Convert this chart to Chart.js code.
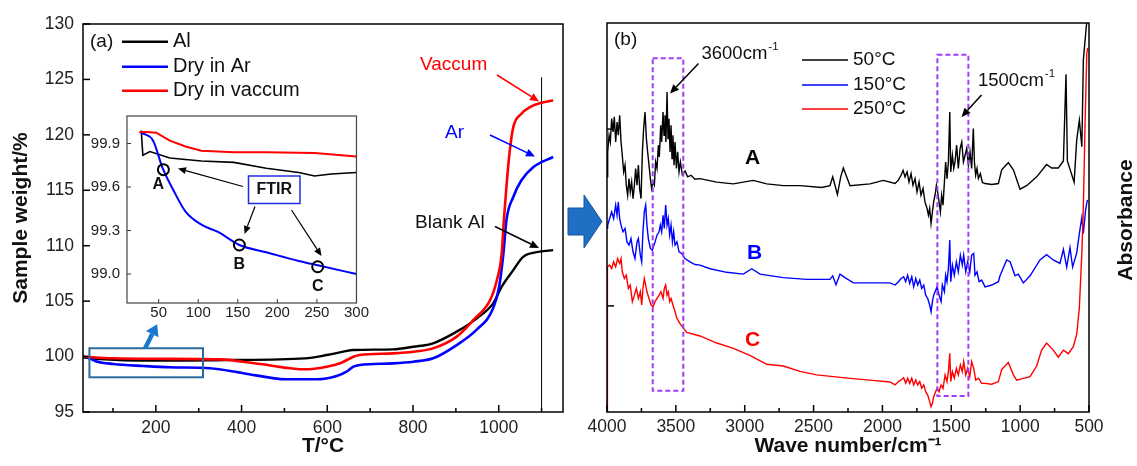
<!DOCTYPE html>
<html>
<head>
<meta charset="utf-8">
<script src="https://cdn.jsdelivr.net/npm/chart.js@4.4.1/dist/chart.umd.min.js"></script>
<style>
  html, body { margin: 0; padding: 0; background: #fff; }
  #wrap { position: relative; width: 1137px; height: 466px; overflow: hidden; background: #fff; }
  canvas { position: absolute; }
</style>
</head>
<body>
<div id="wrap">
  <canvas id="tga" width="570" height="466" style="left:0;top:0;width:570px;height:466px"></canvas>
  <canvas id="inset" width="285" height="230" style="left:85px;top:100px;width:285px;height:230px"></canvas>
  <canvas id="ftir" width="577" height="466" style="left:560px;top:0;width:577px;height:466px"></canvas>
</div>
<script>
// ---- (a) TGA curves: [T in °C, sample weight %] ----
const tgaVacuum = [[30,100.0],[100,99.85],[200,99.8],[350,99.75],[443,99.33],[548,98.85],[599,99.09],[630,99.39],[661,99.99],[676,100.14],[754,100.29],[801,100.44],[847,100.74],[902,101.8],[941,103.3],[980,105.1],[995,106.8],[1007,109.3],[1012,112.3],[1018,115.3],[1025,118.3],[1034,120.7],[1053,121.9],[1073,122.5],[1096,122.85],[1127,123.1]];
const tgaArgon = [[30,100.0],[45,99.85],[62,99.55],[101,99.33],[171,99.15],[233,99.03],[326,98.94],[404,98.5],[505,97.95],[575,97.95],[622,98.25],[645,98.64],[661,99.09],[676,99.24],[754,99.39],[801,99.54],[847,99.84],[902,101.04],[948,102.4],[987,104.35],[1001,106.3],[1011,109.3],[1018,112.3],[1034,114.4],[1053,115.9],[1081,117.1],[1127,118.0]];
const tgaBlank = [[30,99.93],[60,99.8],[202,99.63],[365,99.69],[548,99.84],[599,100.14],[637,100.44],[661,100.59],[754,100.65],[801,100.89],[847,101.2],[902,102.25],[949,103.45],[987,104.8],[1007,106.3],[1034,107.8],[1057,109.0],[1096,109.46],[1127,109.6]];
const tgaMarker = [[1100,95],[1100,125.2]];
const tgaMinorTicks = [100,300,500,700,900,1100];
const tgaZoomBox = [45, 310, 98.13, 100.75];

// ---- inset: first 300 °C ----
const insetVacuum = [[26,99.98],[35,99.98],[47,99.975],[64,99.92],[84,99.88],[104,99.85],[145,99.84],[186,99.84],[247,99.835],[300,99.81]];
const insetBlank = [[28,99.99],[30,99.82],[39,99.845],[64,99.80],[104,99.78],[145,99.77],[186,99.73],[227,99.70],[247,99.676],[268,99.69],[300,99.70]];
const insetArgon = [[26,99.98],[30,99.97],[43,99.92],[55,99.73],[68,99.585],[84,99.43],[104,99.34],[125,99.29],[152,99.20],[186,99.15],[227,99.09],[251,99.06],[300,99.0]];
const ftirSamples = [[56,99.72],[152,99.20],[251,99.05]];
const ftirSampleNames = ['A','B','C'];

// ---- (b) FTIR spectra: [wave number, absorbance (a.u.)] ----
const ftir50 = [[4000,1.33],[3995,1.47],[3985,1.565],[3976,1.527],[3966,1.659],[3956,1.584],[3947,1.669],[3937,1.527],[3927,1.64],[3918,1.565],[3908,1.678],[3898,1.527],[3889,1.452],[3879,1.358],[3869,1.396],[3860,1.283],[3850,1.226],[3840,1.32],[3831,1.245],[3821,1.301],[3811,1.207],[3801,1.283],[3792,1.377],[3782,1.283],[3772,1.396],[3763,1.264],[3753,1.207],[3743,1.471],[3734,1.603],[3724,1.697],[3714,1.546],[3705,1.471],[3695,1.396],[3685,1.32],[3676,1.264],[3666,1.301],[3656,1.283],[3647,1.414],[3637,1.377],[3627,1.509],[3620,1.443],[3610,1.622],[3603,1.527],[3593,1.697],[3586,1.565],[3579,1.678],[3572,1.527],[3564,1.81],[3557,1.546],[3550,1.659],[3542,1.471],[3535,1.622],[3528,1.433],[3521,1.565],[3513,1.396],[3506,1.527],[3496,1.377],[3487,1.471],[3477,1.358],[3467,1.414],[3453,1.343],[3433,1.362],[3414,1.33],[3390,1.339],[3361,1.316],[3325,1.32],[3203,1.30],[3083,1.29],[2938,1.31],[2840,1.29],[2720,1.28],[2598,1.28],[2441,1.27],[2381,1.28],[2361,1.33],[2327,1.23],[2303,1.33],[2284,1.38],[2260,1.33],[2235,1.28],[2090,1.29],[1994,1.31],[1908,1.292],[1884,1.311],[1865,1.339],[1850,1.367],[1836,1.33],[1821,1.358],[1807,1.301],[1792,1.348],[1778,1.283],[1763,1.32],[1749,1.245],[1734,1.301],[1720,1.226],[1705,1.264],[1691,1.188],[1676,1.151],[1666,1.113],[1657,1.151],[1647,1.066],[1637,1.132],[1628,1.188],[1618,1.226],[1608,1.283],[1599,1.245],[1589,1.188],[1579,1.132],[1570,1.226],[1560,1.17],[1550,1.301],[1541,1.414],[1531,1.32],[1521,1.414],[1511,1.697],[1504,1.358],[1492,1.452],[1482,1.377],[1473,1.414],[1461,1.509],[1449,1.377],[1436,1.49],[1424,1.527],[1412,1.414],[1400,1.452],[1388,1.49],[1376,1.396],[1364,1.471],[1352,1.377],[1340,1.603],[1332,1.414],[1323,1.339],[1313,1.377],[1303,1.32],[1289,1.348],[1274,1.298],[1255,1.292],[1206,1.287],[1158,1.292],[1134,1.37],[1086,1.41],[1049,1.37],[1001,1.26],[953,1.28],[880,1.33],[808,1.40],[771,1.38],[723,1.38],[686,1.42],[667,1.91],[657,1.42],[608,1.30],[589,1.54],[570,1.65],[552,1.50],[541,1.99],[522,2.16],[510,2.25]];
const ftir150 = [[4000,1.04],[3995,1.057],[3981,1.094],[3966,1.132],[3952,1.094],[3937,1.17],[3927,1.113],[3918,1.188],[3908,1.094],[3898,1.057],[3884,1.019],[3869,1.038],[3855,0.962],[3840,0.944],[3826,0.981],[3811,0.906],[3797,0.868],[3782,0.962],[3772,0.981],[3758,0.887],[3748,0.849],[3739,1.019],[3729,1.132],[3719,1.17],[3710,1.057],[3700,0.981],[3685,0.925],[3671,0.915],[3651,0.962],[3637,1.0],[3622,1.019],[3613,1.057],[3603,1.019],[3593,1.113],[3584,1.038],[3574,1.17],[3564,1.057],[3555,1.094],[3545,1.0],[3535,1.057],[3525,0.962],[3516,1.019],[3506,0.944],[3492,0.962],[3477,0.906],[3458,0.897],[3434,0.868],[3397,0.849],[3361,0.834],[3325,0.831],[3252,0.81],[3131,0.79],[3010,0.78],[2949,0.81],[2889,0.78],[2720,0.76],[2550,0.75],[2381,0.75],[2361,0.77],[2337,0.72],[2308,0.78],[2272,0.76],[2211,0.73],[2090,0.73],[1945,0.73],[1908,0.718],[1884,0.737],[1865,0.755],[1846,0.765],[1831,0.737],[1817,0.774],[1802,0.727],[1787,0.765],[1773,0.708],[1758,0.755],[1744,0.718],[1729,0.746],[1715,0.699],[1700,0.718],[1686,0.661],[1671,0.642],[1657,0.605],[1647,0.567],[1637,0.624],[1628,0.661],[1618,0.68],[1603,0.708],[1589,0.661],[1574,0.624],[1565,0.718],[1550,0.68],[1541,0.774],[1531,0.737],[1521,0.812],[1511,0.972],[1504,0.737],[1492,0.831],[1478,0.774],[1463,0.849],[1449,0.793],[1434,0.887],[1420,0.831],[1410,0.887],[1395,0.793],[1381,0.849],[1366,0.793],[1352,0.887],[1337,0.897],[1328,0.774],[1313,0.793],[1298,0.737],[1279,0.746],[1255,0.708],[1206,0.718],[1158,0.737],[1146,0.77],[1098,0.86],[1073,0.85],[1037,0.77],[1013,0.78],[977,0.73],[928,0.77],[856,0.86],[808,0.89],[759,0.86],[711,0.84],[686,0.92],[662,0.82],[638,0.93],[619,0.82],[589,0.90],[570,1.01],[552,1.10],[541,1.01],[525,1.14],[512,1.20]];
const ftir250 = [[4000,0],[3999,0.82],[3995,0.821],[3981,0.831],[3966,0.812],[3952,0.849],[3937,0.821],[3923,0.868],[3908,0.84],[3898,0.868],[3889,0.793],[3874,0.755],[3860,0.774],[3845,0.699],[3831,0.718],[3816,0.624],[3801,0.661],[3787,0.699],[3772,0.642],[3758,0.68],[3748,0.605],[3739,0.699],[3729,0.755],[3719,0.718],[3710,0.68],[3695,0.642],[3680,0.605],[3666,0.595],[3651,0.624],[3637,0.642],[3622,0.661],[3608,0.68],[3593,0.642],[3584,0.699],[3574,0.718],[3564,0.661],[3555,0.68],[3545,0.624],[3535,0.642],[3521,0.605],[3506,0.567],[3492,0.529],[3470,0.50],[3421,0.45],[3325,0.43],[3203,0.39],[3083,0.36],[2962,0.32],[2840,0.27],[2720,0.26],[2598,0.23],[2477,0.21],[2357,0.20],[2235,0.19],[2090,0.18],[1945,0.17],[1908,0.153],[1884,0.172],[1865,0.181],[1846,0.194],[1831,0.162],[1817,0.191],[1802,0.162],[1787,0.191],[1773,0.153],[1758,0.181],[1744,0.153],[1729,0.172],[1715,0.134],[1700,0.153],[1686,0.115],[1671,0.096],[1657,0.059],[1647,0.03],[1637,0.049],[1628,0.087],[1618,0.106],[1603,0.134],[1589,0.115],[1574,0.153],[1560,0.134],[1545,0.209],[1531,0.172],[1521,0.228],[1511,0.332],[1504,0.172],[1492,0.228],[1478,0.191],[1463,0.247],[1449,0.209],[1434,0.266],[1420,0.228],[1410,0.285],[1395,0.209],[1381,0.247],[1366,0.2],[1352,0.285],[1337,0.247],[1323,0.181],[1303,0.191],[1279,0.162],[1255,0.162],[1206,0.157],[1158,0.172],[1134,0.24],[1086,0.28],[1049,0.21],[1025,0.18],[977,0.19],[928,0.20],[880,0.26],[844,0.35],[808,0.39],[759,0.35],[723,0.31],[686,0.35],[650,0.33],[614,0.37],[589,0.44],[570,0.59],[552,0.90],[541,1.16],[528,1.65],[516,2.03],[509,2.06]];
const ftirMinorTicks = [750,1250,1750,2250,2750,3250,3750];
const ftirYTicks = [0.6, 1.6];
// dashed boxes: [from, to, top, bottom]
const bandBoxes = [[3668,3446,2.0,0.12],[1601,1376,2.02,0.09]];

const FONT = "Arial, 'Liberation Sans', sans-serif";
Chart.defaults.font.family = FONT;
Chart.defaults.color = '#111';

const xy = arr => arr.map(([x, y]) => ({ x, y }));
const plain = v => String(v);

function arrow(ctx, x1, y1, x2, y2, color, lw, hl, hw) {
  const a = Math.atan2(y2 - y1, x2 - x1);
  const bx = x2 - hl * Math.cos(a), by = y2 - hl * Math.sin(a);
  ctx.strokeStyle = color; ctx.fillStyle = color; ctx.lineWidth = lw;
  ctx.beginPath(); ctx.moveTo(x1, y1); ctx.lineTo(bx, by); ctx.stroke();
  ctx.beginPath(); ctx.moveTo(x2, y2);
  ctx.lineTo(bx + hw * Math.sin(a), by - hw * Math.cos(a));
  ctx.lineTo(bx - hw * Math.sin(a), by + hw * Math.cos(a));
  ctx.closePath(); ctx.fill();
}

function text(ctx, s, x, y, opt) {
  ctx.font = (opt.weight || '') + ' ' + opt.size + 'px ' + FONT;
  ctx.fillStyle = opt.color || '#111';
  ctx.textAlign = opt.align || 'left';
  ctx.textBaseline = 'middle';
  ctx.fillText(s, x, y);
}

function supText(ctx, base, sup, x, y, size, color) {
  text(ctx, base, x, y, { size, color });
  const w = ctx.measureText(base).width;
  text(ctx, sup, x + w + 1, y - 7, { size: size * 0.62, color });
}

function innerTicks(ctx, area, xs, ys, majorX, minorX, yVals) {
  ctx.strokeStyle = '#000'; ctx.lineWidth = 1.5;
  majorX.forEach(v => { const p = xs.getPixelForValue(v); ctx.beginPath(); ctx.moveTo(p, area.bottom); ctx.lineTo(p, area.bottom - 7); ctx.stroke(); });
  minorX.forEach(v => { const p = xs.getPixelForValue(v); ctx.beginPath(); ctx.moveTo(p, area.bottom); ctx.lineTo(p, area.bottom - 4); ctx.stroke(); });
  yVals.forEach(v => { const p = ys.getPixelForValue(v); ctx.beginPath(); ctx.moveTo(area.left, p); ctx.lineTo(area.left + 7, p); ctx.stroke(); });
}

// ---------- (a) TGA ----------
const tgaDecor = {
  id: 'tgaDecor',
  afterDatasetsDraw(chart) {
    const { ctx, chartArea: a, scales: { x, y } } = chart;
    ctx.save();
    innerTicks(ctx, a, x, y, x.ticks.map(t => t.value), tgaMinorTicks, y.ticks.map(t => t.value));
    ctx.strokeStyle = '#000'; ctx.lineWidth = 1.5;
    ctx.strokeRect(a.left, a.top, a.right - a.left, a.bottom - a.top);

    // legend
    text(ctx, '(a)', 90, 42, { size: 19 });
    const leg = [['Al', '#000', 41.7], ['Dry in Ar', '#0000ff', 66.7], ['Dry in vaccum', '#ff0000', 90.7]];
    leg.forEach(([s, c, ly]) => {
      ctx.strokeStyle = c; ctx.lineWidth = 2.5;
      ctx.beginPath(); ctx.moveTo(122, ly); ctx.lineTo(168, ly); ctx.stroke();
      text(ctx, s, 173, ly, { size: 20 });
    });

    // curve labels
    text(ctx, 'Vaccum', 420, 65, { size: 19, color: '#ff0000' });
    arrow(ctx, 497, 75, 539, 101.5, '#ff0000', 1.5, 9, 4);
    text(ctx, 'Ar', 445, 133, { size: 19, color: '#0000ff' });
    arrow(ctx, 490, 135, 535, 156.5, '#0000ff', 1.5, 9, 4);
    text(ctx, 'Blank Al', 415, 223, { size: 19 });
    arrow(ctx, 495, 226.5, 539, 248, '#000', 1.5, 9, 4);

    // zoomed region box and arrow to inset
    const bx0 = x.getPixelForValue(tgaZoomBox[0]), bx1 = x.getPixelForValue(tgaZoomBox[1]);
    const by0 = y.getPixelForValue(tgaZoomBox[3]), by1 = y.getPixelForValue(tgaZoomBox[2]);
    ctx.strokeStyle = '#2c6a9e'; ctx.lineWidth = 2;
    ctx.strokeRect(bx0, by0, bx1 - bx0, by1 - by0);
    const ax = x.getPixelForValue(175);
    arrow(ctx, ax, by0, ax + 12, by0 - 24, '#1a78d0', 4.5, 11, 7);
    ctx.restore();
  }
};

new Chart(document.getElementById('tga'), {
  type: 'line',
  data: {
    datasets: [
      { label: 'Dry in vaccum', data: xy(tgaVacuum), borderColor: '#ff0000', borderWidth: 2.6, pointRadius: 0, cubicInterpolationMode: 'monotone' },
      { label: 'Dry in Ar', data: xy(tgaArgon), borderColor: '#0000ff', borderWidth: 2.6, pointRadius: 0, cubicInterpolationMode: 'monotone' },
      { label: 'Al', data: xy(tgaBlank), borderColor: '#000000', borderWidth: 2.4, pointRadius: 0, cubicInterpolationMode: 'monotone' },
      { label: 'marker', data: xy(tgaMarker), borderColor: '#000000', borderWidth: 1, pointRadius: 0 }
    ]
  },
  options: {
    responsive: false, animation: false, events: [],
    layout: { padding: { top: 24, right: 7, left: 0, bottom: 0 } },
    plugins: { legend: { display: false }, tooltip: { enabled: false } },
    scales: {
      x: {
        type: 'linear', min: 30, max: 1150,
        grid: { display: false, drawTicks: false }, border: { display: false },
        ticks: { stepSize: 200, includeBounds: false, padding: 6, maxRotation: 0, autoSkip: false, color: '#222', font: { size: 17.5 }, callback: plain },
        title: { display: true, text: 'T/°C', color: '#111', font: { size: 21, weight: 'bold' }, padding: { top: 0, bottom: 7 } },
        afterFit: s => { s.height = 54; }
      },
      y: {
        min: 95, max: 130,
        grid: { display: false, drawTicks: false }, border: { display: false },
        ticks: { stepSize: 5, padding: 9, color: '#222', font: { size: 17.5 }, callback: plain },
        title: { display: true, text: 'Sample weight/%', color: '#111', font: { size: 21, weight: 'bold' }, padding: { top: 9, bottom: 0 } },
        afterFit: s => { s.width = 83; }
      }
    }
  },
  plugins: [tgaDecor]
});

// ---------- inset ----------
const insetDecor = {
  id: 'insetDecor',
  beforeDatasetsDraw(chart) {
    const { ctx, chartArea: a } = chart;
    ctx.save(); ctx.fillStyle = '#fff';
    ctx.fillRect(a.left, a.top, a.right - a.left, a.bottom - a.top);
    ctx.restore();
  },
  afterDatasetsDraw(chart) {
    const { ctx, chartArea: a, scales: { x, y } } = chart;
    ctx.save();
    ctx.strokeStyle = '#333'; ctx.lineWidth = 1;
    x.ticks.forEach(t => { const p = x.getPixelForValue(t.value); ctx.beginPath(); ctx.moveTo(p, a.bottom); ctx.lineTo(p, a.bottom - 4); ctx.stroke(); });
    y.ticks.forEach(t => { const p = y.getPixelForValue(t.value); ctx.beginPath(); ctx.moveTo(a.left, p); ctx.lineTo(a.left + 4, p); ctx.stroke(); });
    ctx.strokeStyle = '#444'; ctx.lineWidth = 1.2;
    ctx.strokeRect(a.left, a.top, a.right - a.left, a.bottom - a.top);

    // sample labels under the circles
    const off = [[-5, 15], [0, 20], [0, 20]];
    ftirSamples.forEach(([t, v], i) => {
      text(ctx, ftirSampleNames[i], x.getPixelForValue(t) + off[i][0], y.getPixelForValue(v) + off[i][1], { size: 16, weight: 'bold', align: 'center' });
    });
    // FTIR box
    ctx.strokeStyle = '#1f2fe0'; ctx.lineWidth = 1.5;
    ctx.strokeRect(163.5, 76, 51.5, 27.5);
    text(ctx, 'FTIR', 189.2, 90, { size: 16, weight: 'bold', align: 'center' });
    arrow(ctx, 158, 86.5, 93, 68.5, '#000', 1.2, 8, 3.5);
    arrow(ctx, 170, 106.5, 159.5, 134, '#000', 1.2, 8, 3.5);
    arrow(ctx, 206.5, 110, 236.5, 156, '#000', 1.2, 8, 3.5);
    ctx.restore();
  }
};

new Chart(document.getElementById('inset'), {
  type: 'line',
  data: {
    datasets: [
      { label: 'FTIR samples', data: xy(ftirSamples), showLine: false, pointRadius: 5.5, pointStyle: 'circle', borderColor: '#000', borderWidth: 2, backgroundColor: 'rgba(0,0,0,0)' },
      { label: 'vaccum', data: xy(insetVacuum), borderColor: '#ff0000', borderWidth: 2, pointRadius: 0 },
      { label: 'Ar', data: xy(insetArgon), borderColor: '#0000ff', borderWidth: 2, pointRadius: 0, cubicInterpolationMode: 'monotone' },
      { label: 'Al', data: xy(insetBlank), borderColor: '#000', borderWidth: 1.6, pointRadius: 0 }
    ]
  },
  options: {
    responsive: false, animation: false, events: [],
    layout: { padding: { top: 12, right: 6, left: 0, bottom: 0 } },
    plugins: { legend: { display: false }, tooltip: { enabled: false } },
    scales: {
      x: {
        type: 'linear', min: 10, max: 300,
        grid: { display: false, drawTicks: false }, border: { display: false },
        ticks: { stepSize: 50, includeBounds: false, padding: 1, maxRotation: 0, autoSkip: false, color: '#222', font: { size: 15 }, callback: plain },
        afterFit: s => { s.height = 27; }
      },
      y: {
        min: 98.8, max: 100.09,
        grid: { display: false, drawTicks: false }, border: { display: false },
        ticks: { stepSize: 0.3, includeBounds: false, padding: 7, color: '#222', font: { size: 15 }, callback: v => v.toFixed(1) },
        afterFit: s => { s.width = 42; }
      }
    }
  },
  plugins: [insetDecor]
});

// ---------- (b) FTIR ----------
const ftirDecor = {
  id: 'ftirDecor',
  afterDatasetsDraw(chart) {
    const { ctx, chartArea: a, scales: { x, y } } = chart;
    ctx.save();
    innerTicks(ctx, a, x, y, x.ticks.map(t => t.value), ftirMinorTicks, ftirYTicks);
    ctx.strokeStyle = '#000'; ctx.lineWidth = 1.5;
    ctx.strokeRect(a.left, a.top, a.right - a.left, a.bottom - a.top);

    // dashed band boxes
    ctx.strokeStyle = '#a43cf5'; ctx.lineWidth = 2; ctx.setLineDash([5, 3]);
    bandBoxes.forEach(([w0, w1, top, bot]) => {
      const x0 = x.getPixelForValue(w0), x1 = x.getPixelForValue(w1);
      const y0 = y.getPixelForValue(top), y1 = y.getPixelForValue(bot);
      ctx.strokeRect(x0, y0, x1 - x0, y1 - y0);
    });
    ctx.setLineDash([]);

    text(ctx, '(b)', 54, 40, { size: 19 });
    supText(ctx, '3600cm', '-1', 141.5, 54, 18.5, '#111');
    arrow(ctx, 138.5, 63.5, 110, 93.5, '#000', 1.5, 9, 4);
    supText(ctx, '1500cm', '-1', 418, 80.5, 18.5, '#111');
    arrow(ctx, 421.5, 95, 401.5, 117, '#000', 1.5, 9, 4);

    const leg = [['50°C', '#000', 60], ['150°C', '#0000ff', 85], ['250°C', '#ff0000', 109]];
    leg.forEach(([s, c, ly]) => {
      ctx.strokeStyle = c; ctx.lineWidth = 1.6;
      ctx.beginPath(); ctx.moveTo(242, ly); ctx.lineTo(288, ly); ctx.stroke();
      text(ctx, s, 293, ly, { size: 19 });
    });

    text(ctx, 'A', 185, 158, { size: 21, weight: 'bold', color: '#000' });
    text(ctx, 'B', 187, 253, { size: 21, weight: 'bold', color: '#0000ff' });
    text(ctx, 'C', 185, 340, { size: 21, weight: 'bold', color: '#ff0000' });

    // y title on the right, reading upward
    ctx.translate(566, 220); ctx.rotate(-Math.PI / 2);
    text(ctx, 'Absorbance', 0, 0, { size: 21, weight: 'bold', align: 'center' });
    ctx.restore();

    // link arrow from (a) to (b)
    ctx.save();
    ctx.fillStyle = '#1f6fc5'; ctx.strokeStyle = '#16569c'; ctx.lineWidth = 1;
    ctx.beginPath();
    ctx.moveTo(8, 208); ctx.lineTo(24, 208); ctx.lineTo(24, 195); ctx.lineTo(42, 221.5);
    ctx.lineTo(24, 248); ctx.lineTo(24, 235); ctx.lineTo(8, 235); ctx.closePath();
    ctx.fill(); ctx.stroke();
    ctx.restore();
  }
};

new Chart(document.getElementById('ftir'), {
  type: 'line',
  data: {
    datasets: [
      { label: '250°C', data: xy(ftir250), borderColor: '#ff0000', borderWidth: 1.4, pointRadius: 0 },
      { label: '150°C', data: xy(ftir150), borderColor: '#0000ff', borderWidth: 1.4, pointRadius: 0 },
      { label: '50°C', data: xy(ftir50), borderColor: '#000000', borderWidth: 1.4, pointRadius: 0 }
    ]
  },
  options: {
    responsive: false, animation: false, events: [],
    layout: { padding: { top: 23, right: 48, left: 0, bottom: 0 } },
    plugins: { legend: { display: false }, tooltip: { enabled: false } },
    scales: {
      x: {
        type: 'linear', min: 500, max: 4000, reverse: true,
        grid: { display: false, drawTicks: false }, border: { display: false },
        ticks: { stepSize: 500, padding: 5, maxRotation: 0, autoSkip: false, color: '#222', font: { size: 17.5 }, callback: plain },
        title: { display: true, text: 'Wave number/cm⁻¹', color: '#111', font: { size: 21, weight: 'bold' }, padding: { top: 0, bottom: 7 } },
        afterFit: s => { s.height = 54; }
      },
      y: {
        min: 0, max: 2.2,
        grid: { display: false, drawTicks: false }, border: { display: false },
        ticks: { display: false },
        afterFit: s => { s.width = 47; }
      }
    }
  },
  plugins: [ftirDecor]
});
</script>
</body>
</html>
